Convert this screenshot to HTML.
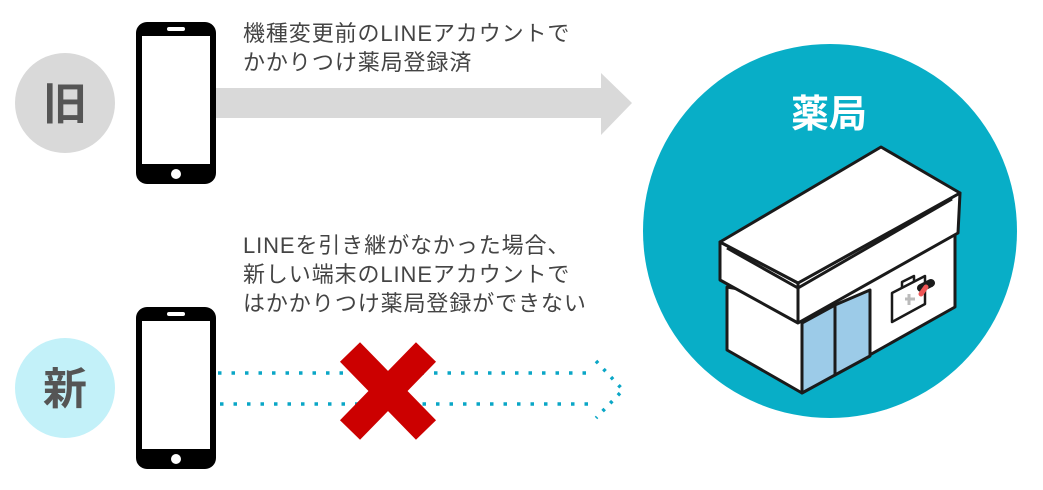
<!DOCTYPE html>
<html><head><meta charset="utf-8"><style>
body{margin:0;width:1043px;height:490px;background:#fff;overflow:hidden;position:relative;font-family:"Liberation Sans","Noto Sans CJK JP",sans-serif}
.t{position:absolute;left:243px;font-size:22px;letter-spacing:0.9px;color:#444;line-height:29px;white-space:nowrap}
</style></head><body>
<svg width="1043" height="490" style="position:absolute;left:0;top:0">
<circle cx="65" cy="103" r="50" fill="#d9d9d9"/>
<text x="65" y="119" text-anchor="middle" font-size="44" font-weight="bold" fill="#555" font-family="Noto Sans CJK JP,sans-serif">旧</text>
<circle cx="65" cy="388" r="50" fill="#c3f1f9"/>
<text x="65" y="404" text-anchor="middle" font-size="44" font-weight="bold" fill="#555" font-family="Noto Sans CJK JP,sans-serif">新</text>
<g id="ph">
<rect x="136" y="22" width="80" height="162" rx="11" fill="#000"/>
<rect x="142" y="36" width="68" height="128" fill="#fff"/>
<rect x="167" y="27" width="18" height="4" rx="2" fill="#fff"/>
<circle cx="176" cy="174" r="5" fill="#fff"/>
</g>
<use href="#ph" y="285"/>
<polygon points="216,88 601,88 601,73 632,103 601,135 601,118 216,118" fill="#d9d9d9"/>
<g stroke="#0aa6c6" stroke-width="3.5" stroke-dasharray="3.5 10" fill="none">
<line x1="218" y1="373" x2="592" y2="373"/>
<line x1="220" y1="404" x2="592" y2="404"/>
<polyline points="596,361 623,390 596,418" stroke-dasharray="3 8"/>
</g>
<g stroke="#cc0000" stroke-width="28">
<line x1="350" y1="352" x2="426" y2="430"/>
<line x1="426" y1="352" x2="350" y2="430"/>
</g>
<circle cx="830" cy="231" r="187" fill="#08aec7"/>
<text x="829" y="127" text-anchor="middle" font-size="38" font-weight="bold" fill="#fff" font-family="Noto Sans CJK JP,sans-serif">薬局</text>
<g stroke="#1a1a1a" stroke-width="3" stroke-linejoin="round" fill="#fff">
<polygon points="727,287 727,350 802,393 955,307 955,233 802,300"/>
<polygon points="802,323 802,393 835,375 835,305" fill="#9ccbe8"/>
<polygon points="835,305 835,375 870,356 870,290" fill="#9ccbe8"/>
<polygon points="720,242 720,280 798,323 958,233 960,193 798,283"/>
<polygon points="720,242 881,147 960,193 798,283"/>
<line x1="727" y1="248" x2="798" y2="288"/>
<line x1="798" y1="288" x2="952" y2="199"/>
<line x1="798" y1="283" x2="798" y2="323"/>
<polygon points="892,293 892,322 925,304 925,276" stroke-width="2.5"/>
<polyline points="902,288 902,282 914,276 914,282" fill="none" stroke-width="2.5"/>
</g>
<path d="M905 299h10M909 294v11" stroke="#bbb" stroke-width="3"/>
<line x1="921" y1="288" x2="931" y2="283" stroke="#1a1a1a" stroke-width="8" stroke-linecap="round"/>
<line x1="921" y1="294" x2="926" y2="287" stroke="#e55" stroke-width="5" stroke-linecap="round"/>
</svg>
<div class="t" style="top:19px">機種変更前のLINEアカウントで<br>かかりつけ薬局登録済</div>
<div class="t" style="top:231px">LINEを引き継がなかった場合、<br>新しい端末のLINEアカウントで<br>はかかりつけ薬局登録ができない</div>
</body></html>
